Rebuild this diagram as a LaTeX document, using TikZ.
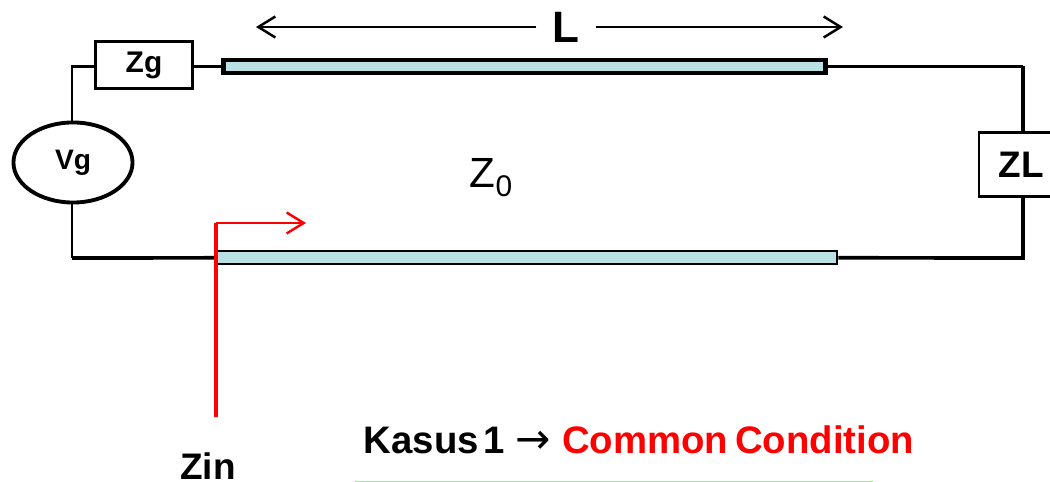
\documentclass[tikz,border=0pt]{standalone}
\usepackage{fontspec}
\setmainfont{Liberation Sans}
\newfontfamily\arrowfont{DejaVu Sans}
\usetikzlibrary{arrows.meta}
\usetikzlibrary{shapes.geometric}
\definecolor{stripcolor}{RGB}{185,225,228}
\begin{document}
\begin{tikzpicture}[x = 0.01cm, y = -0.01cm, font=\bfseries]
	\tikzstyle{boxStyle}=[shape = rectangle, draw, line width = 0.8pt, fill = white, inner sep = 0pt]
	\tikzstyle{stripStyle}=[shape = rectangle, draw, fill = stripcolor, inner sep = 0pt, minimum height = 0.13cm]
	\tikzstyle{thinWire}=[line width = 0.65pt]
	\tikzstyle{thickWire}=[line width = 1.05pt]
	\tikzstyle{barbTip}=[-{Straight Barb[length = 0.17cm, width = 0.21cm, line width = 0.7pt]}]
	\useasboundingbox (0,0) rectangle (1050,482);
	\node[boxStyle, minimum width = 0.97cm, minimum height = 0.47cm, font=\bfseries\fontsize{8.5}{10}\selectfont] (zg) at (144,65) {Zg};
	\node[shape = ellipse, draw, line width = 1.1pt, inner sep = 0pt, minimum width = 1.19cm, minimum height = 0.80cm, font=\bfseries\fontsize{8}{10}\selectfont] (vg) at (73,162.5) {\raisebox{-2.4pt}{Vg}};
	\node[boxStyle, minimum width = 0.84cm, minimum height = 0.64cm, font=\bfseries\fontsize{10.5}{12}\selectfont] (zl) at (1021,164.5) {ZL};
	\node[stripStyle, line width = 1.25pt, minimum width = 6.02cm] (topline) at (524.5,66.5) {};
	\node[stripStyle, line width = 0.7pt, minimum width = 6.20cm] (botline) at (527,257.5) {};
	\node[font=\bfseries\fontsize{12.5}{14}\selectfont, minimum width = 0.58cm, inner sep = 0pt] (lengthlabel) at (566,27) {L};
	\node[font=\fontsize{12}{14}\selectfont] (zzero) at (491,178) {Z\raisebox{-2.5pt}{\fontsize{8.5}{10}\selectfont 0}};
	\node[font=\bfseries\fontsize{10.5}{12}\selectfont] (zin) at (208,466) {Zin};
	\node[anchor = west, inner sep = 0pt, font=\bfseries\fontsize{10.9}{13}\selectfont] (caselabel) at (363,440) {Kasus\hspace{1.5pt}1 {\arrowfont\mdseries\fontsize{12}{13}\selectfont →} \textcolor{red}{Common\hspace{-1pt} Condition}};
	\coordinate (topleft) at (72,66.5);
	\coordinate (topright) at (1023,66.5);
	\coordinate (botleft) at (72,258);
	\coordinate (botright) at (1023,258);
	\coordinate (lengthleft) at (256,27);
	\coordinate (lengthright) at (843,27);
	\coordinate (zintop) at (216,223);
	\coordinate (zinbot) at (216,417);
	\coordinate (zintip) at (306,223);
	\coordinate (ruleleft) at (355,481.5);
	\coordinate (ruleright) at (873,481.5);
	\draw[thinWire] (vg.north -| topleft) -- (topleft) -- (zg.west |- topleft);
	\draw[thinWire] (zg.east |- topleft) -- (topline);
	\draw[thinWire] (topline) -- (topright);
	\draw[thickWire] (topright) -- (zl.north -| topright);
	\draw[thickWire] (zl.south -| botright) -- (botright) -- (botline);
	\draw[thinWire] (vg.south -| botleft) -- (botleft);
	\draw[thickWire] (botleft) -- (botline);
	\draw[barbTip, thinWire] (lengthlabel) -- (lengthleft);
	\draw[barbTip, thinWire] (lengthlabel) -- (lengthright);
	\draw[red, line width = 1.4pt] (zintop) -- (zinbot);
	\draw[red, barbTip, line width = 0.45pt] (zintop) -- (zintip);
	\draw[green!50!white, line width = 0.3pt] (ruleleft) -- (ruleright);
\end{tikzpicture}
\end{document}
